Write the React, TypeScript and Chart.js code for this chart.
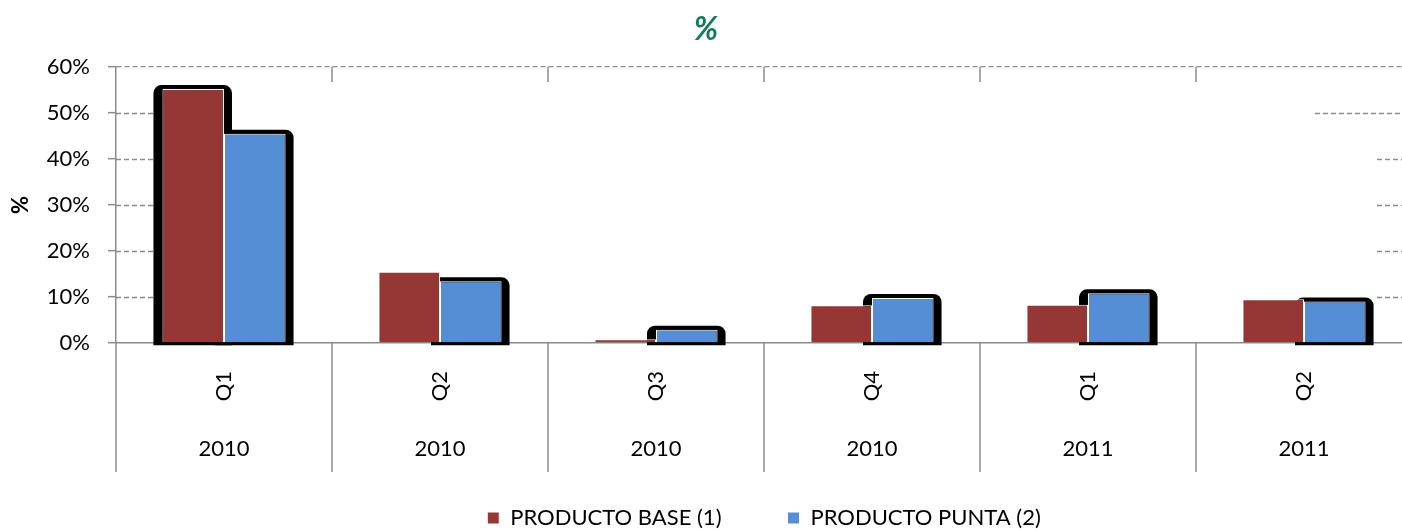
import React, { useEffect, useRef } from 'react';
import { Chart, registerables } from 'chart.js';

Chart.register(...registerables);

const quarters = ['Q1', 'Q2', 'Q3', 'Q4', 'Q1', 'Q2'];
const years = ['2010', '2010', '2010', '2010', '2011', '2011'];
const productoBase = [55.2, 15.5, 0.8, 8.2, 8.3, 9.5];
const productoPunta = [45.5, 13.4, 2.9, 9.8, 10.8, 9.0];
const seriesLabels = ['PRODUCTO BASE (1)', 'PRODUCTO PUNTA (2)'];
const yTickValues = [0, 10, 20, 30, 40, 50, 60];
const baseShadow = [true, false, false, false, false, false];
const puntaShadow = [true, true, true, true, true, true];

const RED = '#953735';
const BLUE = '#558ED5';
const GRID = '#8C8C8C';
const FONT = 'Lato';

const decorPlugin = {
  id: 'decor',
  beforeDatasetsDraw(chart: any) {
    const { ctx, chartArea, scales } = chart;
    const x = scales.x;
    const y = scales.y;
    ctx.save();
    // partial dashed gridline fragments
    ctx.strokeStyle = GRID;
    ctx.lineWidth = 1.3;
    ctx.setLineDash([5, 3]);
    yTickValues.forEach((v) => {
      if (v === 0 || v === 60) return;
      const py = Math.round(y.getPixelForValue(v)) + 0.5;
      ctx.beginPath();
      ctx.moveTo(chartArea.left, py);
      ctx.lineTo(chartArea.left + 39, py);
      ctx.moveTo(chartArea.right - (v === 50 ? 97 : 35), py);
      ctx.lineTo(chartArea.right, py);
      ctx.stroke();
    });
    ctx.setLineDash([]);
    // category separators below axis + small ticks at top
    ctx.lineWidth = 1.5;
    for (let i = 0; i <= quarters.length; i++) {
      const px = x.getPixelForValue(i - 0.5);
      ctx.beginPath();
      ctx.moveTo(px, chartArea.bottom);
      ctx.lineTo(px, chartArea.bottom + 129);
      if (i > 0 && i < quarters.length) {
        ctx.moveTo(px, chartArea.top);
        ctx.lineTo(px, chartArea.top + 15);
      }
      ctx.stroke();
    }
    // black rounded shadows behind bars
    const flags = [baseShadow, puntaShadow];
    ctx.fillStyle = '#000';
    flags.forEach((arr, d) => {
      const meta = chart.getDatasetMeta(d);
      meta.data.forEach((el: any, i: number) => {
        if (!arr[i]) return;
        const p = el.getProps(['x', 'y', 'base', 'width'], true);
        const l = p.x - p.width / 2 - 9;
        const r = p.x + p.width / 2 + 8;
        const t = p.y - 4;
        const b = p.base + 3;
        ctx.beginPath();
        (ctx as any).roundRect(l, t, r - l, b - t, [8, 8, 0, 0]);
        ctx.fill();
      });
    });
    ctx.restore();
  },
};

export default function App() {
  const ref = useRef<HTMLCanvasElement>(null);
  useEffect(() => {
    document.body.style.margin = '0';
    document.body.style.overflow = 'hidden';
    const chart = new Chart(ref.current as HTMLCanvasElement, {
      type: 'bar',
      data: {
        labels: quarters,
        datasets: [
          {
            label: seriesLabels[0],
            data: productoBase,
            backgroundColor: RED,
            borderColor: '#FFFFFF',
            borderWidth: 1,
          },
          {
            label: seriesLabels[1],
            data: productoPunta,
            backgroundColor: BLUE,
            borderColor: '#FFFFFF',
            borderWidth: 1,
          },
        ],
      },
      options: {
        responsive: false,
        animation: false,
        devicePixelRatio: 1,
        datasets: { bar: { barPercentage: 1, categoryPercentage: 0.57 } },
        layout: { padding: { left: 0, right: 0, top: 0, bottom: 1 } },
        plugins: {
          title: {
            display: true,
            text: '%',
            color: '#127C5B',
            font: { family: FONT, size: 32, weight: 'bold', style: 'italic' },
            padding: { top: 10, bottom: 18.6 },
          },
          legend: {
            display: true,
            position: 'bottom',
            fullSize: false,
            maxWidth: 1258,
            labels: {
              boxWidth: 12,
              boxHeight: 12,
              padding: 66,
              color: '#000',
              font: { family: FONT, size: 22 },
            },
          },
          tooltip: { enabled: false },
        },
        scales: {
          x: {
            type: 'category',
            position: 'bottom',
            weight: 0,
            offset: true,
            grid: { display: false, drawTicks: false },
            border: { display: true, color: GRID, width: 1.5 },
            ticks: {
              autoSkip: false,
              minRotation: 90,
              maxRotation: 90,
              padding: 28,
              color: '#000',
              font: { family: FONT, size: 22 },
            },
            afterFit: (s: any) => {
              s.height = 80;
            },
          },
          x2: {
            type: 'category',
            axis: 'x',
            position: 'bottom',
            weight: 1,
            offset: true,
            labels: years,
            min: 0,
            max: years.length - 1,
            grid: { display: false, drawTicks: false },
            border: { display: false },
            ticks: {
              autoSkip: false,
              maxRotation: 0,
              minRotation: 0,
              padding: 13,
              color: '#000',
              font: { family: FONT, size: 22 },
            },
            afterFit: (s: any) => {
              s.height = 18;
              // let the year labels draw beyond the (short) axis box
              s._computeLabelArea = () => undefined;
            },
          },
          y: {
            min: 0,
            max: 60,
            afterBuildTicks: (s: any) => {
              s.ticks = yTickValues.map((v) => ({ value: v }));
            },
            grid: {
              color: (c: any) => (c.tick && c.tick.value === 60 ? GRID : 'rgba(0,0,0,0)'),
              tickColor: GRID,
              tickLength: 8,
              lineWidth: 1.3,
              tickWidth: 1.5,
            },
            border: { display: true, color: GRID, width: 1.5, dash: [5, 3] },
            ticks: {
              padding: 18,
              color: '#000',
              font: { family: FONT, size: 22 },
              callback: (v: any) => v + '%',
            },
            title: {
              display: true,
              text: '%',
              color: '#000',
              font: { family: FONT, size: 22, weight: 'bold' },
              padding: { top: 8, bottom: 0 },
            },
            afterFit: (s: any) => {
              s.width = 116;
            },
          },
        },
      },
      plugins: [decorPlugin],
    } as any);
    return () => chart.destroy();
  }, []);
  return (
    <div style={{ width: 1402, height: 530, overflow: 'hidden', position: 'relative' }}>
      <canvas ref={ref} width={1412} height={540} style={{ display: 'block', width: 1412, height: 540 }} />
    </div>
  );
}
